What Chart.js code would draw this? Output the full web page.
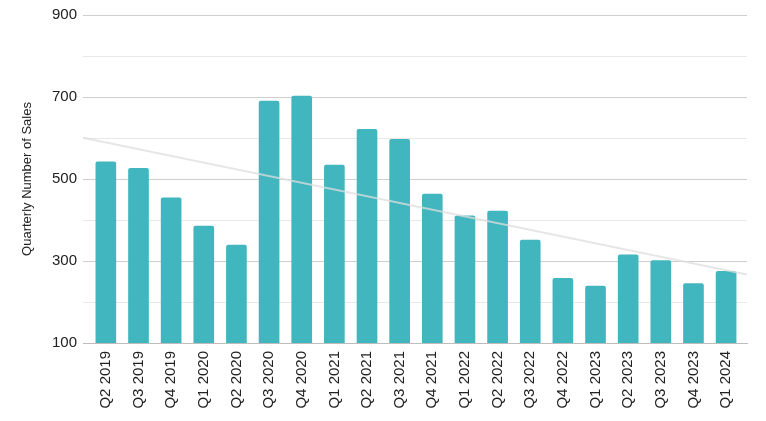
<!DOCTYPE html>
<html>
<head>
<meta charset="utf-8">
<script src="https://cdn.jsdelivr.net/npm/chart.js@4/dist/chart.umd.min.js"></script>
<style>
  body { margin: 0; background: #fff; }
  #wrap { width: 766px; height: 421px; }
</style>
</head>
<body>
<div id="wrap"><canvas id="salesChart"></canvas></div>
<script>
const quarters = ['Q2 2019', 'Q3 2019', 'Q4 2019', 'Q1 2020', 'Q2 2020', 'Q3 2020', 'Q4 2020',
  'Q1 2021', 'Q2 2021', 'Q3 2021', 'Q4 2021', 'Q1 2022', 'Q2 2022', 'Q3 2022', 'Q4 2022',
  'Q1 2023', 'Q2 2023', 'Q3 2023', 'Q4 2023', 'Q1 2024'];
const sales = [542, 526, 454, 385, 339, 690, 702, 534, 621, 597, 463, 410, 422, 351, 258,
  239, 315, 301, 245, 275];
const yTicks = [100, 300, 500, 700, 900];

// x range is a bit wider than the bars, the grid and trend run edge to edge
const xMin = -0.7;
const xMax = quarters.length - 1 + 0.64;

// least squares trend over the quarters
function trendLine(vals) {
  const n = vals.length;
  const mx = (n - 1) / 2;
  const my = vals.reduce((a, b) => a + b, 0) / n;
  let sxy = 0, sxx = 0;
  vals.forEach((v, i) => { sxy += (i - mx) * (v - my); sxx += (i - mx) * (i - mx); });
  const slope = sxy / sxx;
  return [xMin, xMax].map(x => ({ x: x, y: my + slope * (x - mx) }));
}

const font = 'Liberation Sans, Arial, sans-serif';
const ctx = document.getElementById('salesChart').getContext('2d');
new Chart(ctx, {
  data: {
    datasets: [
      {
        type: 'line',
        data: trendLine(sales),
        borderColor: 'rgba(222,222,222,0.75)',
        borderWidth: 2,
        pointRadius: 0,
        order: 0
      },
      {
        type: 'bar',
        data: sales.map((v, i) => ({ x: i, y: v })),
        backgroundColor: '#41b6bf',
        barThickness: 20,
        borderRadius: { topLeft: 2, topRight: 2 },
        borderSkipped: 'start',
        order: 1
      }
    ]
  },
  options: {
    responsive: true,
    maintainAspectRatio: false,
    animation: false,
    layout: { padding: { top: 15, right: 19, left: 0, bottom: 0 } },
    plugins: { legend: { display: false }, tooltip: { enabled: false } },
    scales: {
      x: {
        type: 'linear',
        offset: false,
        min: xMin,
        max: xMax,
        afterFit: (scale) => { scale.height = 78; },
        afterBuildTicks: (scale) => {
          scale.ticks = quarters.map((q, i) => ({ value: i }));
        },
        grid: { display: false, drawTicks: false, offset: false },
        border: { color: '#bdbdbd', width: 1 },
        ticks: {
          autoSkip: false,
          maxRotation: 90,
          minRotation: 90,
          padding: 8,
          color: '#222',
          font: { family: font, size: 15 },
          callback: (v) => quarters[v] || ''
        }
      },
      y: {
        min: 100,
        max: 900,
        afterFit: (scale) => { scale.width = 83; },
        ticks: {
          stepSize: 100,
          padding: 6,
          color: '#222',
          font: { family: font, size: 15 },
          callback: (v) => yTicks.includes(v) ? v : ''
        },
        grid: {
          drawTicks: false,
          color: (c) => yTicks.includes(c.tick.value) ? '#cfcfcf' : '#e8e8e8'
        },
        border: { display: false },
        title: {
          display: true,
          text: 'Quarterly Number of Sales',
          color: '#222',
          padding: { top: 20, bottom: 0 },
          font: { family: font, size: 13 }
        }
      }
    }
  }
});
</script>
</body>
</html>
